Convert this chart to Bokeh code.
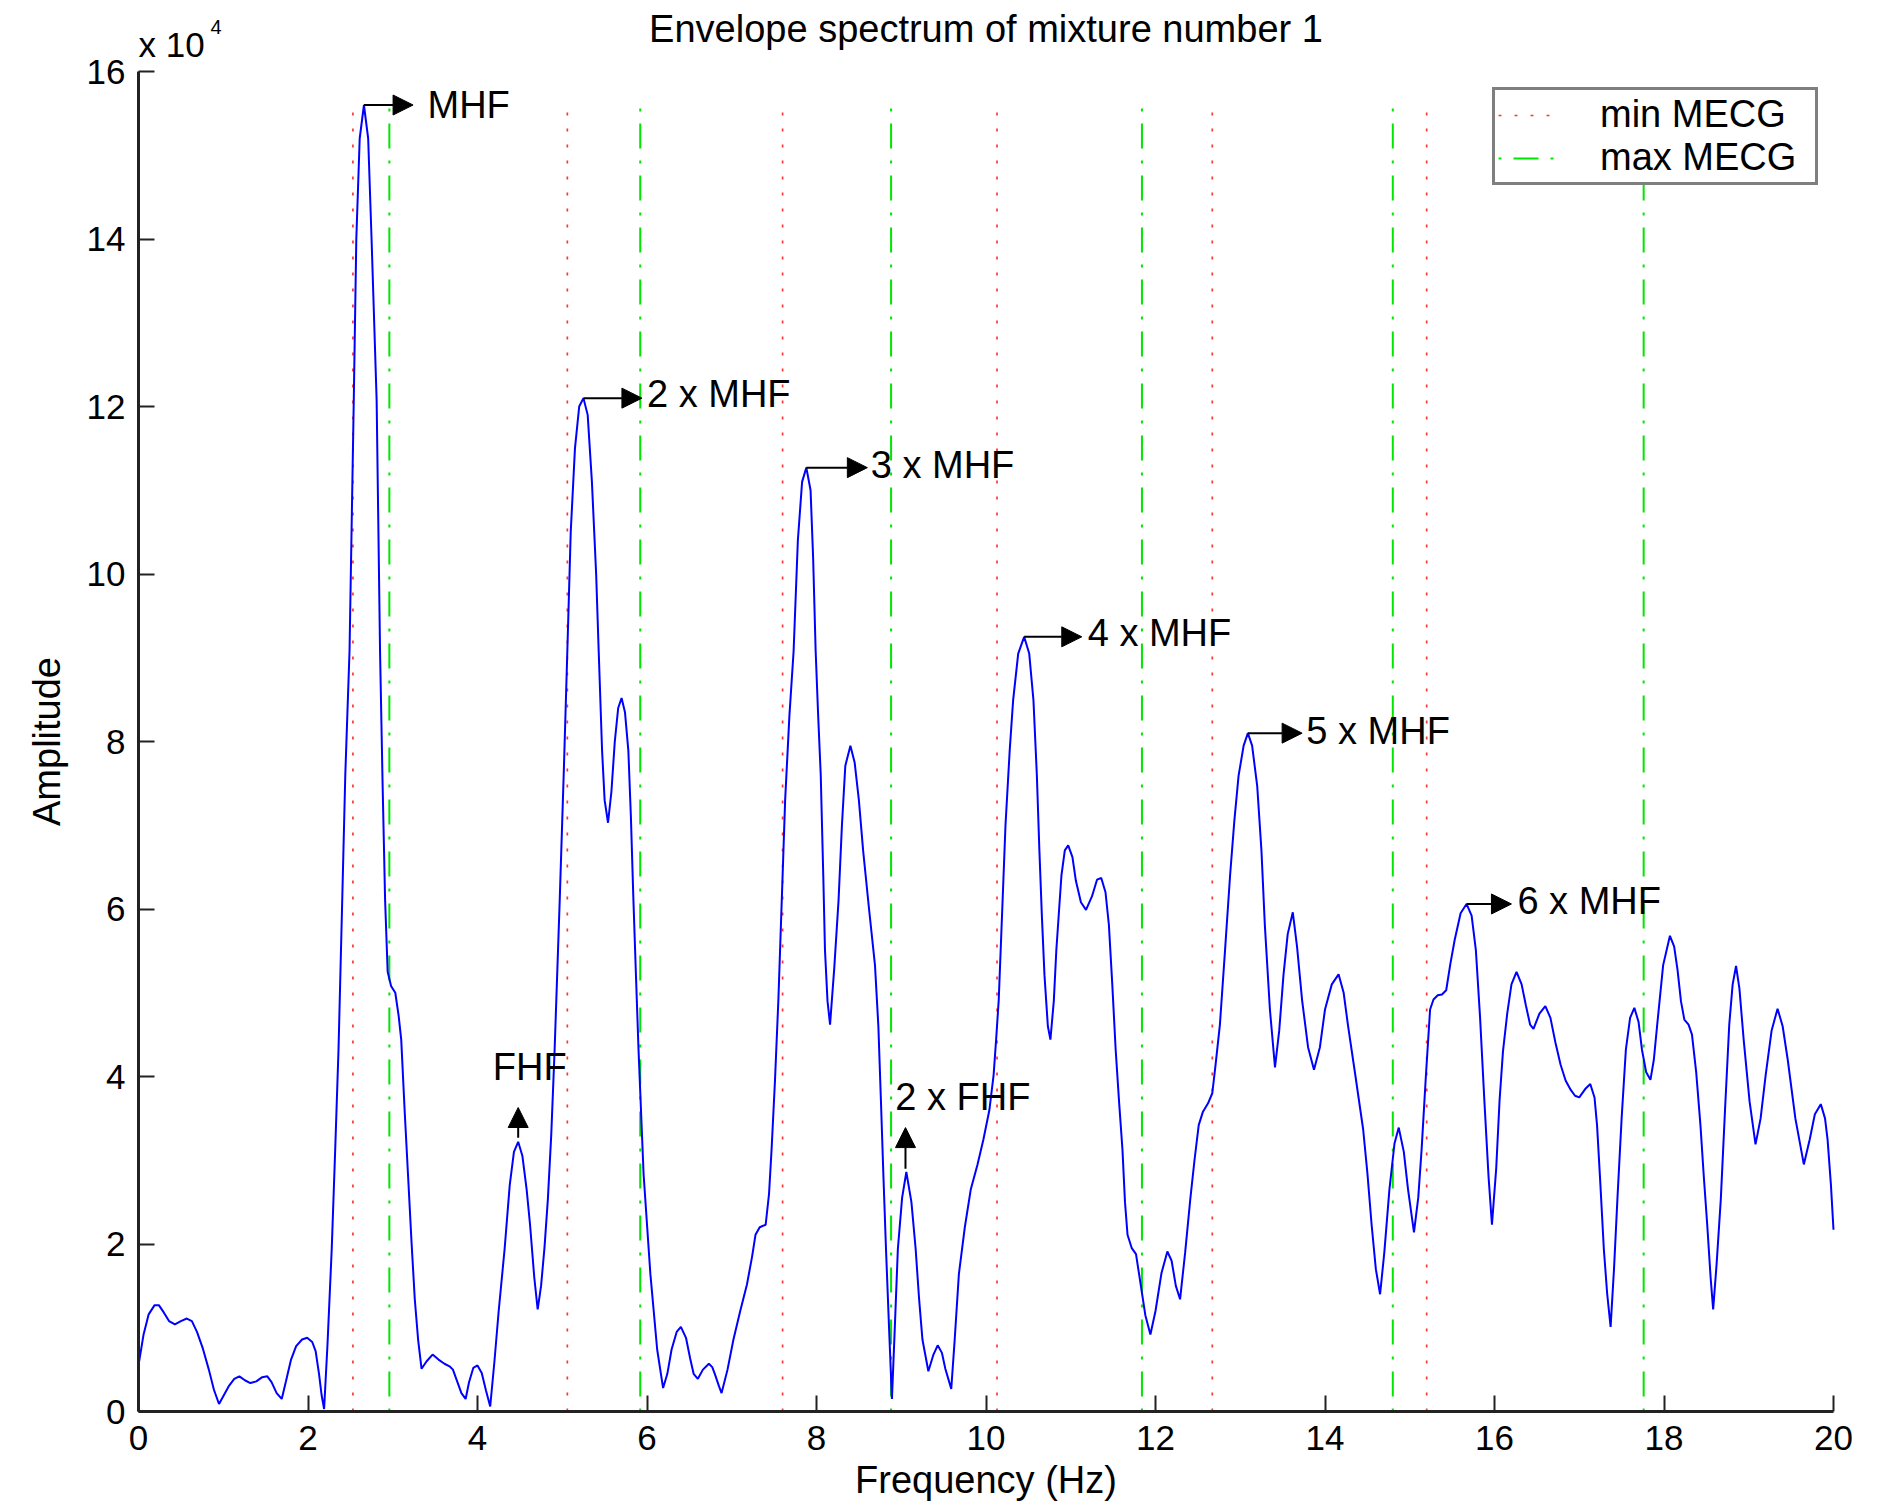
import math
from bokeh.plotting import figure
from bokeh.models import (ColumnDataSource, Range1d, FixedTicker, Arrow, NormalHead,
                          Legend, LegendItem)
from bokeh.core.properties import value
from bokeh.embed import file_html
from bokeh.resources import INLINE

# ---------------- data (amplitude in units of 10^4) ----------------
freq = [0.00, 0.06, 0.12, 0.19, 0.24, 0.30, 0.36, 0.43, 0.50, 0.57, 0.63, 0.69, 0.76, 0.83, 0.89,
        0.95, 1.01, 1.07, 1.13, 1.19, 1.26, 1.32, 1.39, 1.46, 1.52, 1.57, 1.63, 1.69, 1.74, 1.80,
        1.86, 1.93, 1.99, 2.05, 2.09, 2.13, 2.16, 2.19, 2.23, 2.28, 2.32, 2.36, 2.40, 2.44, 2.49,
        2.54, 2.57, 2.61, 2.66, 2.71, 2.75, 2.81, 2.85, 2.88, 2.91, 2.94, 2.98, 3.03, 3.07, 3.10,
        3.14, 3.18, 3.22, 3.26, 3.30, 3.34, 3.40, 3.47, 3.54, 3.61, 3.67, 3.71, 3.76, 3.81, 3.86,
        3.90, 3.95, 4.00, 4.05, 4.10, 4.15, 4.20, 4.25, 4.32, 4.38, 4.43, 4.48, 4.53, 4.58, 4.62,
        4.67, 4.71, 4.75, 4.79, 4.83, 4.87, 4.91, 4.97, 5.02, 5.06, 5.10, 5.15, 5.20, 5.25, 5.30,
        5.35, 5.40, 5.43, 5.47, 5.50, 5.54, 5.58, 5.62, 5.66, 5.70, 5.74, 5.78, 5.81, 5.84, 5.87,
        5.90, 5.96, 6.04, 6.12, 6.19, 6.24, 6.29, 6.35, 6.40, 6.46, 6.51, 6.55, 6.60, 6.66, 6.73,
        6.77, 6.80, 6.85, 6.88, 6.95, 7.02, 7.10, 7.18, 7.24, 7.28, 7.33, 7.40, 7.44, 7.47, 7.51,
        7.55, 7.59, 7.63, 7.68, 7.73, 7.78, 7.83, 7.88, 7.93, 7.96, 7.99, 8.02, 8.05, 8.08, 8.10,
        8.13, 8.16, 8.21, 8.26, 8.30, 8.34, 8.40, 8.45, 8.50, 8.55, 8.62, 8.69, 8.73, 8.76, 8.79,
        8.82, 8.86, 8.89, 8.92, 8.96, 9.01, 9.06, 9.12, 9.17, 9.21, 9.25, 9.32, 9.38, 9.43, 9.48,
        9.52, 9.59, 9.63, 9.68, 9.75, 9.82, 9.90, 9.97, 10.04, 10.09, 10.12, 10.15, 10.19, 10.23,
        10.28, 10.32, 10.38, 10.45, 10.51, 10.56, 10.60, 10.63, 10.66, 10.69, 10.73, 10.76, 10.80,
        10.83, 10.89, 10.93, 10.97, 11.02, 11.06, 11.12, 11.18, 11.25, 11.31, 11.36, 11.41, 11.45,
        11.49, 11.53, 11.57, 11.61, 11.64, 11.67, 11.72, 11.77, 11.82, 11.88, 11.94, 12.00, 12.07,
        12.14, 12.19, 12.24, 12.29, 12.35, 12.41, 12.46, 12.51, 12.56, 12.62, 12.67, 12.71, 12.76,
        12.82, 12.88, 12.93, 12.98, 13.04, 13.09, 13.14, 13.20, 13.25, 13.29, 13.35, 13.41, 13.46,
        13.51, 13.56, 13.62, 13.67, 13.73, 13.80, 13.87, 13.94, 14.00, 14.08, 14.16, 14.22, 14.27,
        14.36, 14.45, 14.50, 14.55, 14.60, 14.65, 14.70, 14.76, 14.82, 14.87, 14.93, 14.98, 15.05,
        15.10, 15.14, 15.19, 15.24, 15.28, 15.33, 15.38, 15.43, 15.48, 15.53, 15.60, 15.67, 15.73,
        15.78, 15.83, 15.88, 15.93, 15.97, 16.02, 16.06, 16.10, 16.15, 16.20, 16.26, 16.32, 16.37,
        16.42, 16.46, 16.53, 16.60, 16.66, 16.72, 16.78, 16.84, 16.90, 16.95, 17.00, 17.07, 17.13,
        17.18, 17.21, 17.25, 17.29, 17.33, 17.37, 17.41, 17.45, 17.50, 17.55, 17.60, 17.65, 17.70,
        17.74, 17.79, 17.84, 17.88, 17.92, 17.99, 18.07, 18.12, 18.16, 18.20, 18.24, 18.29, 18.33,
        18.38, 18.43, 18.47, 18.51, 18.55, 18.58, 18.62, 18.67, 18.72, 18.77, 18.81, 18.85, 18.89,
        18.94, 19.01, 19.08, 19.14, 19.20, 19.27, 19.34, 19.40, 19.46, 19.55, 19.65, 19.72, 19.78,
        19.85, 19.90, 19.93, 19.97, 20.00]

amplitude = [0.55, 0.92, 1.16, 1.27, 1.27, 1.18, 1.08, 1.04, 1.08, 1.11, 1.08, 0.95, 0.75, 0.50, 0.26,
             0.09, 0.20, 0.31, 0.39, 0.42, 0.37, 0.34, 0.36, 0.41, 0.42, 0.35, 0.22, 0.15, 0.36, 0.62,
             0.78, 0.86, 0.88, 0.83, 0.72, 0.45, 0.20, 0.03, 0.80, 1.94, 3.10, 4.32, 5.95, 7.60, 9.08,
             12.07, 14.00, 15.20, 15.60, 15.20, 14.00, 12.07, 9.08, 7.50, 6.10, 5.25, 5.08, 5.00, 4.72, 4.44,
             3.60, 2.83, 2.05, 1.34, 0.85, 0.51, 0.60, 0.68, 0.62, 0.57, 0.54, 0.50, 0.36, 0.22, 0.15,
             0.35, 0.52, 0.55, 0.46, 0.25, 0.06, 0.60, 1.20, 1.94, 2.70, 3.10, 3.22, 3.05, 2.65, 2.23,
             1.60, 1.22, 1.50, 1.95, 2.53, 3.30, 4.32, 6.10, 7.70, 9.08, 10.50, 11.50, 12.00, 12.10, 11.90,
             11.10, 10.00, 9.08, 7.89, 7.30, 7.03, 7.40, 8.00, 8.40, 8.52, 8.35, 7.89, 7.10, 6.10, 5.20,
             4.32, 2.83, 1.64, 0.74, 0.28, 0.45, 0.74, 0.95, 1.01, 0.88, 0.63, 0.45, 0.39, 0.50, 0.57,
             0.53, 0.45, 0.30, 0.22, 0.50, 0.86, 1.20, 1.52, 1.85, 2.11, 2.20, 2.23, 2.60, 3.13, 3.95,
             4.91, 6.10, 7.30, 8.30, 9.08, 10.40, 11.10, 11.27, 11.00, 10.20, 9.08, 8.30, 7.60, 6.40, 5.51,
             4.90, 4.62, 5.30, 6.10, 7.00, 7.71, 7.95, 7.75, 7.30, 6.70, 6.00, 5.33, 4.60, 3.72, 2.80,
             1.94, 0.90, 0.15, 0.90, 1.94, 2.55, 2.86, 2.50, 1.94, 1.35, 0.86, 0.48, 0.68, 0.79, 0.70,
             0.51, 0.27, 0.85, 1.64, 2.20, 2.65, 2.95, 3.25, 3.60, 4.02, 4.45, 4.91, 5.95, 7.00,
             7.90, 8.49, 9.05, 9.25, 9.05, 8.49, 7.60, 6.70, 5.90, 5.21, 4.60, 4.44, 4.90,
             5.51, 6.40, 6.70, 6.76, 6.62, 6.34, 6.08, 5.99, 6.15, 6.35, 6.37, 6.20, 5.81,
             5.10, 4.32, 3.70, 3.13, 2.50, 2.11, 1.95, 1.88, 1.55, 1.15, 0.92, 1.20, 1.65,
             1.91, 1.80, 1.50, 1.34, 1.90, 2.53, 3.00, 3.42, 3.58, 3.68, 3.80, 4.15, 4.62,
             5.50, 6.40, 7.05, 7.59, 7.95, 8.10, 7.95, 7.47, 6.70, 5.81, 4.80, 4.11, 4.55,
             5.21, 5.70, 5.96, 5.55, 4.91, 4.35, 4.08, 4.35, 4.80, 5.10, 5.22, 5.00, 4.62,
             4.00, 3.37, 2.85, 2.23, 1.70, 1.40, 1.90, 2.65, 3.20, 3.39, 3.10, 2.65, 2.14,
             2.55, 3.13, 4.00, 4.80, 4.92, 4.97, 4.98, 5.03, 5.35, 5.63, 5.95, 6.06, 5.92,
             5.51, 4.70, 3.72, 2.80, 2.23, 2.90, 3.72, 4.30, 4.75, 5.10, 5.25, 5.10, 4.85,
             4.62, 4.57, 4.75, 4.84, 4.70, 4.40, 4.14, 3.95, 3.84, 3.77, 3.75, 3.85, 3.91,
             3.75, 3.42, 2.70, 1.94, 1.40, 1.01, 1.70, 2.53, 3.50, 4.32, 4.70, 4.82, 4.65,
             4.32, 4.05, 3.96, 4.20, 4.62, 5.33, 5.68, 5.55, 5.27, 4.90, 4.68, 4.62, 4.50,
             4.05, 3.42, 2.80, 2.23, 1.60, 1.22, 1.75, 2.53, 3.60, 4.62, 5.10, 5.32, 5.05,
             4.44, 3.70, 3.19, 3.50, 4.02, 4.55, 4.81, 4.60, 4.20, 3.50, 2.95, 3.25, 3.55,
             3.67, 3.50, 3.25, 2.70, 2.17]

min_mecg = [2.53, 5.06, 7.60, 10.13, 12.67, 15.20]
max_mecg = [2.96, 5.92, 8.88, 11.84, 14.80, 17.76]

x_ticks = [0, 2, 4, 6, 8, 10, 12, 14, 16, 18, 20]
x_tick_labels = ["0", "2", "4", "6", "8", "10", "12", "14", "16", "18", "20"]
y_ticks = [0, 2, 4, 6, 8, 10, 12, 14, 16]
y_tick_labels = ["0", "2", "4", "6", "8", "10", "12", "14", "16"]

arrow_x0 = [2.66, 5.25, 7.88, 10.45, 13.09, 15.67, 4.48, 9.05]
arrow_y0 = [15.60, 12.10, 11.27, 9.25, 8.10, 6.06, 3.27, 2.90]
arrow_x1 = [3.24, 5.94, 8.60, 11.13, 13.73, 16.20, 4.48, 9.05]
arrow_y1 = [15.60, 12.10, 11.27, 9.25, 8.10, 6.06, 3.63, 3.39]

ann_text = ["MHF", "2 x MHF", "3 x MHF", "4 x MHF", "5 x MHF", "6 x MHF", "FHF", "2 x FHF"]
ann_x = [3.41, 6.00, 8.64, 11.20, 13.78, 16.27, 4.18, 8.93]
ann_y = [15.60, 12.15, 11.30, 9.30, 8.12, 6.10, 4.11, 3.75]

title_text = "Envelope spectrum of mixture number 1"
x_label = "Frequency (Hz)"
y_label = "Amplitude"
exp_base = "x 10"
exp_power = "4"
legend_labels = ["min MECG", "max MECG"]

FONT = "Liberation Sans"
TXT = "38px"

# ---------------- layout constants (pixels) ----------------
W, H = 1860, 1504
X0_PX, X20_PX = 138, 1833         # canvas x of x = 0 and x = 20
Y16_PX, Y0_PX = 71, 1411          # canvas y of y = 16 and y = 0
px_x = (X20_PX - X0_PX) / 20.0
px_y = (Y0_PX - Y16_PX) / 16.0


def dx(px):   # canvas x pixel -> data x
    return (px - X0_PX) / px_x


def dy(px):   # canvas y pixel -> data y
    return (Y0_PX - px) / px_y


# the frame covers the whole canvas; axes are pinned at x = 0 / y = 0
p = figure(width=W, height=H, x_range=Range1d(dx(0), dx(W)), y_range=Range1d(dy(H), dy(0)),
           output_backend="svg", toolbar_location=None, title=None,
           min_border_left=0, min_border_right=0, min_border_top=0, min_border_bottom=0)
p.outline_line_color = None
p.xgrid.visible = False
p.ygrid.visible = False
p.background_fill_color = "white"
p.border_fill_color = "white"

for ax, ticks, labels in ((p.xaxis, x_ticks, x_tick_labels), (p.yaxis, y_ticks, y_tick_labels)):
    ax.fixed_location = 0
    ax.ticker = FixedTicker(ticks=ticks, minor_ticks=[])
    ax.major_label_overrides = {t: l for t, l in zip(ticks, labels)}
    ax.major_label_text_font = FONT
    ax.major_label_text_font_size = "35px"
    ax.major_label_text_color = "black"
    ax.axis_line_color = "#222222"
    ax.axis_line_width = 3
    ax.major_tick_line_color = "#222222"
    ax.major_tick_line_width = 2
    ax.major_tick_in = 16
    ax.major_tick_out = 0
    ax.minor_tick_in = 0
    ax.minor_tick_out = 0

p.xaxis.bounds = (0, 20)
p.yaxis.bounds = (0, 16)
p.xaxis.major_label_standoff = 14
p.yaxis.major_label_standoff = 13

# vertical MECG lines
vtop = max(amplitude)
src_min = ColumnDataSource(dict(x=min_mecg, y0=[0] * len(min_mecg), y1=[vtop] * len(min_mecg)))
src_max = ColumnDataSource(dict(x=max_mecg, y0=[0] * len(max_mecg), y1=[vtop] * len(max_mecg)))
r_min = p.segment(x0="x", y0="y0", x1="x", y1="y1", source=src_min,
                  line_color="#ff2020", line_width=1.7, line_dash="3 13", line_alpha=0.9)
r_max = p.segment(x0="x", y0="y0", x1="x", y1="y1", source=src_max,
                  line_color="#00e600", line_width=2, line_dash="25 12 3 12", line_dash_offset=37)

# spectrum curve
p.line(freq, amplitude, line_color="#0000ff", line_width=2)

# arrows
arrow_src = ColumnDataSource(dict(x0=arrow_x0, y0=arrow_y0, x1=arrow_x1, y1=arrow_y1))
p.add_layout(Arrow(end=NormalHead(size=20, fill_color="black", line_color="black", line_width=1),
                   x_start="x0", y_start="y0", x_end="x1", y_end="y1", source=arrow_src,
                   line_color="black", line_width=2))

# annotation texts
ann_src = ColumnDataSource(dict(x=ann_x, y=ann_y, text=ann_text))
p.text(x="x", y="y", text="text", source=ann_src, text_font=value(FONT),
       text_font_size=value(TXT), text_baseline="middle", text_align="left", text_color="black")

# title, axis labels, exponent marker
p.text(x=[10], y=[dy(28)], text=[title_text], text_font=value(FONT),
       text_font_size=value(TXT), text_baseline="middle", text_align="center", text_color="black")
p.text(x=[10], y=[dy(1479)], text=[x_label], text_font=value(FONT),
       text_font_size=value(TXT), text_baseline="middle", text_align="center", text_color="black")
p.text(x=[dx(46)], y=[8], text=[y_label], angle=math.pi / 2, text_font=value(FONT),
       text_font_size=value(TXT), text_baseline="middle", text_align="center", text_color="black")
p.text(x=[0], y=[dy(44)], text=[exp_base], text_font=value(FONT),
       text_font_size=value("35px"), text_baseline="middle", text_align="left", text_color="black")
p.text(x=[dx(X0_PX + 72)], y=[dy(26)], text=[exp_power], text_font=value(FONT),
       text_font_size=value("20px"), text_baseline="middle", text_align="left", text_color="black")

# legend (absolute position: bottom-left corner, pixels from the frame's bottom-left)
LEG_LEFT, LEG_TOP, LEG_H = 1492, 91, 94
legend = Legend(items=[LegendItem(label=legend_labels[0], renderers=[r_min]),
                       LegendItem(label=legend_labels[1], renderers=[r_max])],
                location=(LEG_LEFT, H - (LEG_TOP + LEG_H)),
                padding=3, spacing=0,
                glyph_width=60, glyph_height=34, label_height=34, label_width=212, label_standoff=42,
                label_text_font=FONT, label_text_font_size=TXT, label_text_color="black",
                border_line_color="black", border_line_width=3, background_fill_color="white",
                background_fill_alpha=1.0)
p.add_layout(legend)

open("out.html", "w").write(file_html(p, INLINE))
